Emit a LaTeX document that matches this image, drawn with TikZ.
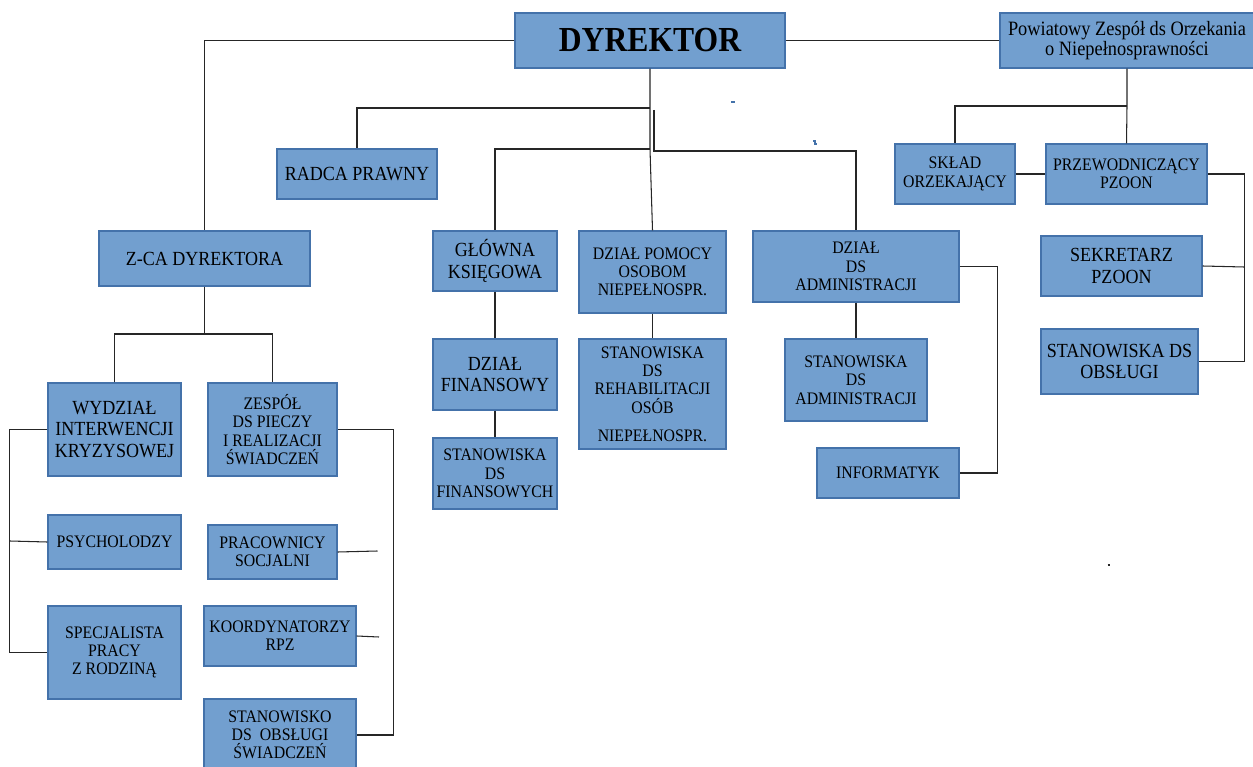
\documentclass[tikz,border=0pt]{standalone}
\usepackage{fontspec}
\setmainfont{Liberation Serif}[FakeStretch=0.9]
\definecolor{boxfill}{RGB}{114,159,207}
\definecolor{boxedge}{RGB}{68,114,170}
\begin{document}
\begin{tikzpicture}[
  box/.style={draw=boxedge,fill=boxfill,line width=0.8pt,inner sep=0pt,align=center,text=black},
  wh/.style 2 args={minimum width=#1cm,minimum height=#2cm},
  sm/.style={font=\fontsize{10}{10.4}\selectfont},
  lg/.style={font=\fontsize{11.4}{12.3}\selectfont},
  link/.style={line width=0.6pt,black!85},
  speck/.style={line width=0.8pt,boxedge}]
\useasboundingbox (0,0) rectangle (25.06,-15.34);
\node[box,wh={5.4}{1.1},font=\fontsize{20}{22}\bfseries] (dyr) at (13,-0.81) {DYREKTOR};
\node[box,wh={5.08}{1.1},font=\fontsize{11.6}{11.8}\selectfont] (pzoon) at (22.54,-0.81) {Powiatowy Zespół ds Orzekania\\o Niepełnosprawności};
\node[box,lg,wh={3.2}{1.0}] (radca) at (7.14,-3.48) {RADCA PRAWNY};
\node[box,lg,wh={4.22}{1.1}] (zca) at (4.09,-5.17) {Z-CA DYREKTORA};
\node[box,lg,wh={2.48}{1.2}] (glowna) at (9.9,-5.22) {GŁÓWNA\\KSIĘGOWA};
\node[box,sm,wh={2.94}{1.64}] (pomoc) at (13.05,-5.44) {DZIAŁ POMOCY\\OSOBOM\\NIEPEŁNOSPR.};
\node[box,sm,wh={4.12}{1.42}] (admin) at (17.12,-5.33) {DZIAŁ\\DS\\ADMINISTRACJI};
\node[box,sm,wh={2.4}{1.2}] (sklad) at (19.1,-3.48) {SKŁAD\\ORZEKAJĄCY};
\node[box,sm,wh={3.22}{1.2}] (przew) at (22.53,-3.48) {PRZEWODNICZĄCY\\PZOON};
\node[box,lg,wh={3.22}{1.2}] (sekr) at (22.43,-5.32) {SEKRETARZ\\PZOON};
\node[box,lg,wh={3.14}{1.3}] (obsl) at (22.39,-7.23) {STANOWISKA DS\\OBSŁUGI};
\node[box,sm,wh={2.84}{1.64}] (stadm) at (17.12,-7.6) {STANOWISKA\\DS\\ADMINISTRACJI};
\node[box,sm,wh={2.84}{1.0}] (info) at (17.76,-9.46) {INFORMATYK};
\node[box,lg,wh={2.48}{1.42}] (dfin) at (9.9,-7.49) {DZIAŁ\\FINANSOWY};
\node[box,sm,wh={2.48}{1.42}] (stfin) at (9.9,-9.47) {STANOWISKA\\DS\\FINANSOWYCH};
\node[box,sm,wh={2.94}{2.2}] (rehab) at (13.05,-7.88) {STANOWISKA\\DS\\REHABILITACJI\\OSÓB\\[5.5pt]NIEPEŁNOSPR.};
\node[box,lg,wh={2.66}{1.86}] (wydz) at (2.29,-8.59) {WYDZIAŁ\\INTERWENCJI\\KRYZYSOWEJ};
\node[box,sm,wh={2.58}{1.86}] (zesp) at (5.45,-8.59) {ZESPÓŁ\\DS PIECZY\\I REALIZACJI\\ŚWIADCZEŃ};
\node[box,sm,wh={2.66}{1.08}] (psych) at (2.29,-10.84) {PSYCHOLODZY};
\node[box,sm,wh={2.58}{1.08}] (prac) at (5.45,-11.04) {PRACOWNICY\\SOCJALNI};
\node[box,sm,wh={3.04}{1.2}] (koord) at (5.6,-12.72) {KOORDYNATORZY\\RPZ};
\node[box,sm,wh={2.66}{1.86}] (spec) at (2.29,-13.05) {SPECJALISTA\\PRACY\\Z RODZINĄ};
\node[box,sm,wh={3.04}{1.44}] (stobs) at (5.6,-14.7) {STANOWISKO\\DS\ \ OBSŁUGI\\ŚWIADCZEŃ};
\coordinate (j1) at (13,-2.16);
\coordinate (j2) at (13,-2.98);
\coordinate (j3) at (13.08,-2.2);
\coordinate (j4) at (13.08,-3.02);
\coordinate (pz) at (22.54,-2.12);
\coordinate (zc) at (4.09,-6.68);
\coordinate (pracend) at (7.55,-11.02);
\coordinate (koordend) at (7.58,-12.74);
\draw[link] (dyr.west) -| (zca.north);
\draw[link] (dyr.east) -- (pzoon.west);
\draw[link] (dyr.south) -- (j2) -- (pomoc.north);
\draw[link] (j1) -| (radca.north);
\draw[link] (j2) -| (glowna.north);
\draw[link] (j3) -- (j4) -| (admin.north);
\draw[link] (glowna.south) -- (dfin.north);
\draw[link] (dfin.south) -- (stfin.north);
\draw[link] (pomoc.south) -- (rehab.north);
\draw[link] (admin.south) -- (stadm.north);
\draw[link] (admin.east) -- ++(0.76,0) |- (info.east);
\draw[link] (pzoon.south) -- (pz) -- (przew.north);
\draw[link] (pz) -| (sklad.north);
\draw[link] (sklad.east) -- (przew.west);
\draw[link] (przew.east) -- ++(0.74,0) |- (obsl.east);
\draw[link] (sekr.east) -- (24.88,-5.34);
\draw[link] (zca.south) -- (zc);
\draw[link] (wydz.north) |- (zc) -| (zesp.north);
\draw[link] (wydz.west) -- ++(-0.76,0) |- (spec.west);
\draw[link] (psych.west) -- (0.2,-10.82);
\draw[link] (zesp.east) -- ++(1.12,0) |- (stobs.east);
\draw[link] (prac.east) -- (pracend);
\draw[link] (koord.east) -- (koordend);
\draw[speck] (14.62,-2.04) -- (14.69,-2.04);
\draw[speck] (16.26,-2.82) -- (16.3,-2.82) -- (16.3,-2.88) -- (16.34,-2.88);
\draw[link] (22.15,-11.3) -- (22.2,-11.3);
\end{tikzpicture}
\end{document}
